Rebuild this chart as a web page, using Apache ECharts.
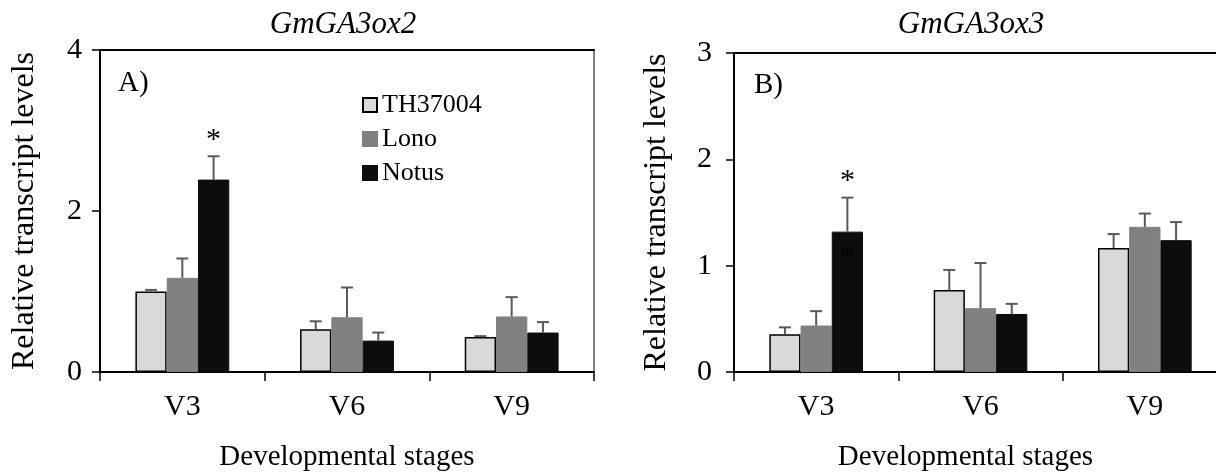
<!DOCTYPE html>
<html>
<head>
<meta charset="utf-8">
<script src="https://cdn.jsdelivr.net/npm/echarts@6/dist/echarts.min.js"></script>
<style>
    html, body { margin: 0; padding: 0; background: #fff; }
    #chart { width: 1216px; height: 472px; }
</style>
</head>
<body>
<div id="chart"></div>
<script>
// categories / series
const stages = ['V3', 'V6', 'V9'];
const cultivars = ['TH37004', 'Lono', 'Notus'];

// GmGA3ox2 (panel A), mean and upper error
const aTH = [1.00, 0.53, 0.435];
const aLono = [1.17, 0.68, 0.69];
const aNotus = [2.39, 0.39, 0.49];
const aTHErr = [0.02, 0.10, 0.01];
const aLonoErr = [0.24, 0.37, 0.24];
const aNotusErr = [0.29, 0.10, 0.13];
const aNotusSig = ['*', '', ''];

// GmGA3ox3 (panel B)
const bTH = [0.355, 0.77, 1.167];
const bLono = [0.437, 0.60, 1.365];
const bNotus = [1.32, 0.546, 1.24];
const bTHErr = [0.065, 0.19, 0.13];
const bLonoErr = [0.135, 0.425, 0.125];
const bNotusErr = [0.32, 0.095, 0.17];
const bNotusSig = ['*', '', ''];
const bNotusInner = ['*', '', ''];

const aTicks = { max: 4, interval: 2 };
const bTicks = { max: 3, interval: 1 };

const FONT = "'Liberation Serif', 'Times New Roman', serif";
const colors = ['#d9d9d9', '#808080', '#0d0d0d'];
const borders = ['#000', '#808080', '#0d0d0d'];
const BAR_FRAC = 0.19; // 每根柱子占类目宽度比例 (barCategoryGap 43%)

const myChart = echarts.init(document.getElementById('chart'));

// 误差线 + 显著性星号
const errorBar = (idx, sigs) => (params, api) => {
    const k = api.value(0);
    const v = api.value(1);
    const e = api.value(2);
    const base = api.coord([k, v]);
    const top = api.coord([k, v + e]);
    const band = api.size([1, 0])[0];
    const cx = base[0] + (idx - 1) * band * BAR_FRAC;
    const style = { stroke: '#5a5a5a', lineWidth: 2 };
    const children = [
        { type: 'line', shape: { x1: cx, y1: base[1], x2: cx, y2: top[1] }, style },
        { type: 'line', shape: { x1: cx - 6, y1: top[1], x2: cx + 6, y2: top[1] }, style }
    ];
    const s = sigs ? sigs[params.dataIndex] : '';
    if (s) {
        children.push({
            type: 'text',
            style: {
                text: s, x: cx, y: top[1] - 1, align: 'center', verticalAlign: 'bottom',
                font: '30px ' + FONT, fill: '#000'
            }
        });
    }
    return { type: 'group', children };
};

const buildSeries = (g, vals, errs, sigs, inner) => {
    const out = [];
    cultivars.forEach((name, i) => {
        out.push({
            name: name,
            type: 'bar',
            xAxisIndex: g * 2,
            yAxisIndex: g,
            barGap: '0%',
            barCategoryGap: '43%',
            itemStyle: { color: colors[i], borderColor: borders[i], borderWidth: i === 0 ? 1.5 : 1 },
            emphasis: { disabled: true },
            data: vals[i].map((v, k) => {
                if (inner && inner[i] && inner[i][k]) {
                    return {
                        value: v,
                        label: {
                            show: true, formatter: inner[i][k], position: 'insideTop', distance: 11,
                            color: '#000', fontSize: 30, fontFamily: FONT
                        }
                    };
                }
                return v;
            })
        });
        out.push({
            name: name + ' err',
            type: 'custom',
            xAxisIndex: g * 2,
            yAxisIndex: g,
            z: 3,
            renderItem: errorBar(i, sigs[i]),
            data: vals[i].map((v, k) => [k, v, errs[i][k]])
        });
    });
    return out;
};

const xAxisStyle = (gridIndex, namePad) => [{
    gridIndex: gridIndex,
    type: 'category',
    data: stages,
    name: 'Developmental stages',
    nameLocation: 'middle',
    nameGap: 71,
    nameTextStyle: { color: '#000', fontSize: 29, fontFamily: FONT, padding: [0, namePad, 0, 0] },
    axisLine: { show: true, lineStyle: { color: '#000', width: 2 } },
    axisTick: { show: true, length: 9, lineStyle: { color: '#000', width: 1.5 } },
    axisLabel: { color: '#000', fontSize: 30, fontFamily: FONT, margin: 20 },
    splitLine: { show: false }
}, {
    // 顶部边框
    gridIndex: gridIndex,
    type: 'category',
    data: stages,
    position: 'top',
    axisLine: { show: true, lineStyle: { color: '#000', width: 2 } },
    axisTick: { show: false },
    axisLabel: { show: false },
    splitLine: { show: false }
}];

const yAxisStyle = (gridIndex, ticks, labelMargin, nameGap) => ({
    gridIndex: gridIndex,
    type: 'value',
    min: 0,
    max: ticks.max,
    interval: ticks.interval,
    name: 'Relative transcript levels',
    nameLocation: 'middle',
    nameGap: nameGap,
    nameTextStyle: { color: '#000', fontSize: 32, fontFamily: FONT },
    axisLine: { show: true, lineStyle: { color: '#000', width: 2 } },
    axisTick: { show: true, length: 8, lineStyle: { color: '#000', width: 1.5 } },
    axisLabel: { color: '#000', fontSize: 30, fontFamily: FONT, margin: labelMargin },
    splitLine: { show: false }
});

const option = {
    animation: false,
    textStyle: { fontFamily: FONT },
    grid: [
        { left: 100, top: 50, width: 494, height: 322, show: true, borderColor: '#000', borderWidth: 1, outerBoundsMode: 'none' },
        { left: 734, top: 53, width: 493, height: 319, show: true, borderColor: '#000', borderWidth: 1, outerBoundsMode: 'none' }
    ],
    legend: {
        data: cultivars,
        orient: 'vertical',
        left: 357,
        top: 87,
        itemWidth: 14,
        itemHeight: 14,
        itemGap: 8,
        itemTextGap: 5,
        icon: 'rect',
        selectedMode: false,
        textStyle: { color: '#000', fontSize: 26, fontFamily: FONT }
    },
    graphic: [
        { type: 'text', x: 343, y: 25, style: { text: 'GmGA3ox2', align: 'center', verticalAlign: 'middle', font: 'italic 31px ' + FONT, fill: '#000' } },
        { type: 'text', x: 971, y: 25, style: { text: 'GmGA3ox3', align: 'center', verticalAlign: 'middle', font: 'italic 31px ' + FONT, fill: '#000' } },
        { type: 'text', x: 118, y: 83, style: { text: 'A)', align: 'left', verticalAlign: 'middle', font: '29px ' + FONT, fill: '#000' } },
        { type: 'text', x: 754, y: 85, style: { text: 'B)', align: 'left', verticalAlign: 'middle', font: '29px ' + FONT, fill: '#000' } }
    ],
    xAxis: [...xAxisStyle(0, 0), ...xAxisStyle(1, 30)],
    yAxis: [yAxisStyle(0, aTicks, 18, 59), yAxisStyle(1, bTicks, 22, 61)],
    series: [
        ...buildSeries(0, [aTH, aLono, aNotus], [aTHErr, aLonoErr, aNotusErr], [null, null, aNotusSig], null),
        ...buildSeries(1, [bTH, bLono, bNotus], [bTHErr, bLonoErr, bNotusErr], [null, null, bNotusSig], [null, null, bNotusInner])
    ]
};

myChart.setOption(option);
</script>
</body>
</html>
